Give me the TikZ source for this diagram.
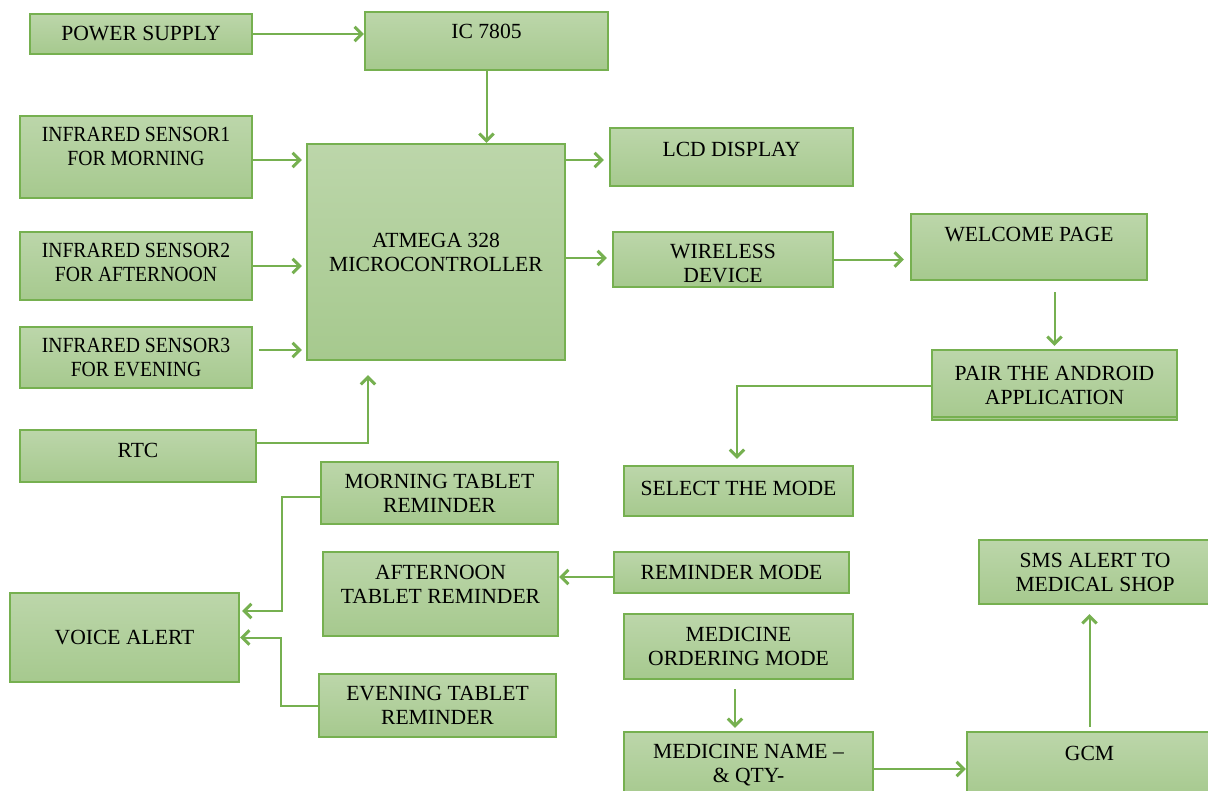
\documentclass[tikz,border=0pt]{standalone}
\usepackage{fontspec}
\setmainfont{Liberation Serif}
\usepackage{tikz}
\usetikzlibrary{arrows.meta,calc}
\definecolor{boxline}{RGB}{118,176,80}
\definecolor{boxtop}{RGB}{188,214,170}
\definecolor{boxbot}{RGB}{166,201,142}
\tikzset{
  blk/.style={draw=boxline, line width=1.1pt, top color=boxtop, bottom color=boxbot, align=center, inner sep=0pt},
  arr/.style={draw=boxline, line width=1pt, -{Straight Barb[length=3.6pt,width=7.2pt,line width=1.5pt]}},
  cond/.style={font=\fontsize{10.8}{12}\selectfont\addfontfeature{FakeStretch=0.91}}
}

\begin{document}
\begin{tikzpicture}[x=0.5pt,y=-0.5pt,font=\fontsize{10.8}{12}\selectfont]
\useasboundingbox (0,0) rectangle (1208,791);
\clip (0,0) rectangle (1208,791);

% left column
\node[blk, minimum width=111pt, minimum height=20pt] (pwr) at (141,34) {POWER SUPPLY};
\node[blk, minimum width=116pt, minimum height=41pt, label={[cond,yshift=5.5pt,align=center]center:INFRARED SENSOR1\\FOR MORNING}] (ir1) at (136,157) {};
\node[blk, minimum width=116pt, minimum height=34pt, label={[cond,yshift=2pt,align=center]center:INFRARED SENSOR2\\FOR AFTERNOON}] (ir2) at (136,266) {};
\node[blk, cond, minimum width=116pt, minimum height=30.5pt] (ir3) at (136,357.5) {INFRARED SENSOR3\\FOR EVENING};
\node[blk, minimum width=118pt, minimum height=26pt, label={[yshift=3pt]center:RTC}] (rtc) at (138,456) {};
\node[blk, minimum width=114.5pt, minimum height=44.5pt] (voice) at (124.5,637.5) {VOICE ALERT};

% middle
\node[blk, minimum width=121.5pt, minimum height=29pt, label={[yshift=5pt]center:IC 7805}] (ic) at (486.5,41) {};
\node[blk, minimum width=129pt, minimum height=108pt] (mcu) at (436,252) {ATMEGA 328\\MICROCONTROLLER};
\node[blk, minimum width=118.5pt, minimum height=31pt] (mtr) at (439.5,493) {MORNING TABLET\\REMINDER};
\node[blk, minimum width=117.5pt, minimum height=42pt, label={[yshift=5pt,align=center]center:AFTERNOON\\TABLET REMINDER}] (atr) at (440.5,594) {};
\node[blk, minimum width=118.5pt, minimum height=31.5pt] (etr) at (437.5,705.5) {EVENING TABLET\\REMINDER};

% right side
\node[blk, minimum width=121.5pt, minimum height=29pt, label={[yshift=4pt]center:LCD DISPLAY}] (lcd) at (731.5,157) {};
\node[blk, minimum width=110pt, minimum height=27.5pt, label={[yshift=-2pt,align=center]center:WIRELESS\\DEVICE}] (wls) at (723,259.5) {};
\node[blk, minimum width=118pt, minimum height=33pt, label={[yshift=6pt]center:WELCOME PAGE}] (wlc) at (1029,247) {};
\node[blk, minimum width=122.5pt, minimum height=35pt] (pair) at (1054.5,385) {PAIR THE ANDROID\\APPLICATION};
\node[blk, minimum width=114.5pt, minimum height=25pt, label={[yshift=1.5pt]center:SELECT THE MODE}] (sel) at (738.5,491) {};
\node[blk, minimum width=117.5pt, minimum height=20.5pt] (rmd) at (731.5,572.5) {REMINDER MODE};
\node[blk, minimum width=114.5pt, minimum height=32.5pt] (mom) at (738.5,646.5) {MEDICINE\\ORDERING MODE};
\node[blk, minimum width=124.5pt, minimum height=33pt] (mnq) at (748.5,765) {MEDICINE NAME –\\\& QTY-};
\node[blk, minimum width=122.5pt, minimum height=33pt, label={[yshift=6pt]center:GCM}] (gcm) at (1089.5,765) {};
\node[blk, minimum width=116pt, minimum height=32pt] (sms) at (1095,572) {SMS ALERT TO\\MEDICAL SHOP};
\draw[boxline, line width=1pt] ($(pair.south west)+(0,2pt)$) -- ($(pair.south east)+(0,2pt)$);

% connectors
\draw[arr] (pwr.east) -- (pwr.east -| ic.west);
\draw[arr] (ic.south) -- (ic.south |- mcu.north);
\draw[arr] ($(ir1.east)+(0,-1.5pt)$) -- ($(ir1.east -| mcu.west)+(-2pt,-1.5pt)$);
\draw[arr] (ir2.east) -- ($(ir2.east -| mcu.west)+(-2pt,0)$);
\draw[arr] ($(ir3.east)+(3pt,3.75pt)$) -- ($(ir3.east -| mcu.west)+(-2pt,3.75pt)$);
\draw[arr] ($(rtc.east)+(0,6.5pt)$) -| ($(mcu.south)+(-34pt,-7pt)$);
\draw[arr] ($(mcu.east |- lcd.west)+(0,-1.5pt)$) -- ($(lcd.west)+(-2.5pt,-1.5pt)$);
\draw[arr] ($(mcu.east |- wls.west)+(0,0.75pt)$) -- ($(wls.west)+(-2.5pt,0.75pt)$);
\draw[arr] (wls.east) -- ($(wls.east -| wlc.west)+(-3pt,0)$);
\draw[arr] ($(wlc.south -| pair.north)+(0,-5.5pt)$) -- ($(pair.north)+(0,1.5pt)$);
\draw[arr] ($(pair.west)+(0,-0.5pt)$) -| ($(sel.north)+(-0.75pt,3pt)$);
\draw[arr] ($(rmd.west)+(0,-2.25pt)$) -- ($(rmd.west -| atr.east)+(0,-2.25pt)$);
\draw[arr] ($(mtr.west)+(0,-2pt)$) -- ++(-19pt,0) |- ($(voice.east)+(1pt,13.25pt)$);
\draw[arr] (etr.west) -- ++(-18.5pt,0) |- (voice.east);
\draw[arr] ($(mom.south)+(-1.75pt,-4.5pt)$) -- ($(mom.south |- mnq.north)+(-1.75pt,1.5pt)$);
\draw[arr] ($(mnq.east)+(0,-2pt)$) -- ($(mnq.east -| gcm.west)+(0,-2pt)$);
\draw[arr] ($(gcm.north)+(0,2pt)$) -- ($(gcm.north |- sms.south)+(0,-4.5pt)$);
\end{tikzpicture}
\end{document}
